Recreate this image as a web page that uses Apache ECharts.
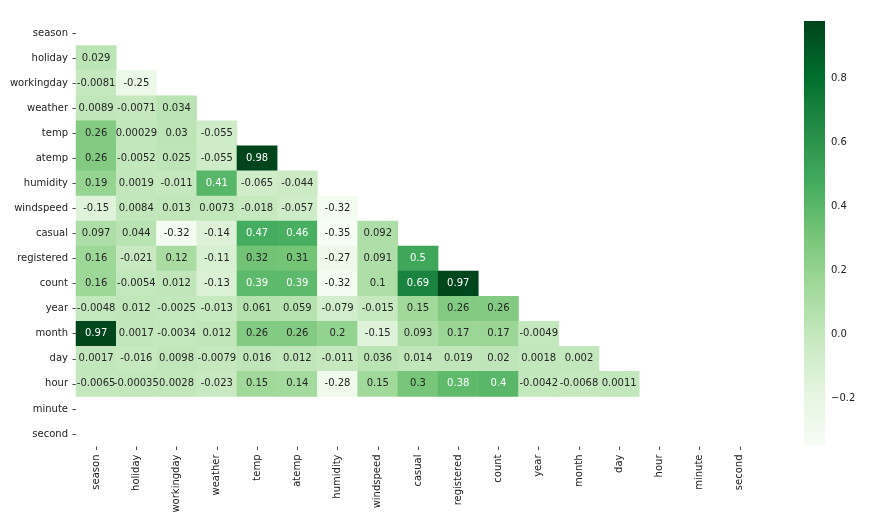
<!DOCTYPE html>
<html>
<head>
<meta charset="utf-8">
<script src="https://cdn.jsdelivr.net/npm/echarts@6/dist/echarts.min.js"></script>
<style>html,body{margin:0;padding:0;background:#fff}#c{width:869px;height:516px}</style>
</head>
<body>
<div id="c"></div>
<script>
const categories = ['season','holiday','workingday','weather','temp','atemp','humidity','windspeed','casual','registered','count','year','month','day','hour','minute','second'];
// lower-triangle correlations, row by row (row i has i values, columns 0..i-1)
const rowSeason = [];
const rowHoliday = [0.029];
const rowWorkingday = [-0.0081, -0.25];
const rowWeather = [0.0089, -0.0071, 0.034];
const rowTemp = [0.26, 0.00029, 0.03, -0.055];
const rowAtemp = [0.26, -0.0052, 0.025, -0.055, 0.98];
const rowHumidity = [0.19, 0.0019, -0.011, 0.41, -0.065, -0.044];
const rowWindspeed = [-0.15, 0.0084, 0.013, 0.0073, -0.018, -0.057, -0.32];
const rowCasual = [0.097, 0.044, -0.32, -0.14, 0.47, 0.46, -0.35, 0.092];
const rowRegistered = [0.16, -0.021, 0.12, -0.11, 0.32, 0.31, -0.27, 0.091, 0.5];
const rowCount = [0.16, -0.0054, 0.012, -0.13, 0.39, 0.39, -0.32, 0.1, 0.69, 0.97];
const rowYear = [-0.0048, 0.012, -0.0025, -0.013, 0.061, 0.059, -0.079, -0.015, 0.15, 0.26, 0.26];
const rowMonth = [0.97, 0.0017, -0.0034, 0.012, 0.26, 0.26, 0.2, -0.15, 0.093, 0.17, 0.17, -0.0049];
const rowDay = [0.0017, -0.016, 0.0098, -0.0079, 0.016, 0.012, -0.011, 0.036, 0.014, 0.019, 0.02, 0.0018, 0.002];
const rowHour = [-0.0065, -0.00035, 0.0028, -0.023, 0.15, 0.14, -0.28, 0.15, 0.3, 0.38, 0.4, -0.0042, -0.0068, 0.0011];
const rowMinute = [];
const rowSecond = [];
const rows = [rowSeason,rowHoliday,rowWorkingday,rowWeather,rowTemp,rowAtemp,rowHumidity,rowWindspeed,rowCasual,rowRegistered,rowCount,rowYear,rowMonth,rowDay,rowHour,rowMinute,rowSecond];
const colorbarTicks = [-0.2, 0.0, 0.2, 0.4, 0.6, 0.8];
const vmin = -0.35, vmax = 0.98;

const greens = ['#f7fcf5','#e5f5e0','#c7e9c0','#a1d99b','#74c476','#41ab5d','#238b45','#006d2c','#00441b'];

const data = [];
rows.forEach((r, i) => r.forEach((v, j) => {
  data.push({value: [j, i, v], label: {color: v >= 0.35 ? '#ffffff' : '#262626'}});
}));

const font = 'DejaVu Sans';
const chart = echarts.init(document.getElementById('c'), null, {renderer: 'canvas'});
chart.setOption({
  animation: false,
  backgroundColor: '#fff',
  grid: [
    {left: 76, right: 109, top: 20.5, bottom: 69.5},
    {left: 804, width: 21, top: 21, bottom: 70}
  ],
  xAxis: [
    {type: 'category', data: categories, gridIndex: 0, position: 'bottom',
     axisLine: {show: false}, splitArea: {show: false},
     axisTick: {show: true, alignWithLabel: true, length: 3.5, lineStyle: {color: '#222', width: 0.8}},
     axisLabel: {rotate: 90, fontFamily: font, fontSize: 10, color: '#222', margin: 8, interval: 0}},
    {type: 'value', gridIndex: 1, min: 0, max: 1, show: false}
  ],
  yAxis: [
    {type: 'category', data: categories, gridIndex: 0, inverse: true,
     axisLine: {show: false}, splitArea: {show: false},
     axisTick: {show: true, alignWithLabel: true, length: 3.5, lineStyle: {color: '#222', width: 0.8}},
     axisLabel: {fontFamily: font, fontSize: 10, color: '#222', margin: 8, interval: 0}},
    {type: 'value', gridIndex: 1, min: vmin, max: vmax, position: 'right',
     axisLine: {show: false}, splitLine: {show: false},
     axisTick: {show: true, length: 3.5, customValues: colorbarTicks, lineStyle: {color: '#222', width: 0.8}},
     axisLabel: {show: true, customValues: colorbarTicks, fontFamily: font, fontSize: 10, color: '#222', margin: 6,
       formatter: v => v.toFixed(1).replace('-', '\u2212')}}
  ],
  visualMap: {
    show: false, type: 'continuous', min: vmin, max: vmax, seriesIndex: 0, dimension: 2,
    inRange: {color: greens}
  },
  series: [
    {type: 'heatmap', xAxisIndex: 0, yAxisIndex: 0, data: data,
     label: {show: true, fontFamily: font, fontSize: 10,
       formatter: p => String(p.value[2])},
     itemStyle: {borderWidth: 0},
     emphasis: {disabled: true}},
    {type: 'custom', xAxisIndex: 1, yAxisIndex: 1, data: [[0, vmin]],
     renderItem: (params, api) => {
       const cs = params.coordSys;
       const stops = greens.map((c, k) => ({offset: 1 - k / (greens.length - 1), color: c}));
       return {type: 'rect', shape: {x: cs.x, y: cs.y, width: cs.width, height: cs.height},
         style: {fill: new echarts.graphic.LinearGradient(0, 0, 0, 1, stops)}};
     }}
  ]
});
</script>
</body>
</html>
